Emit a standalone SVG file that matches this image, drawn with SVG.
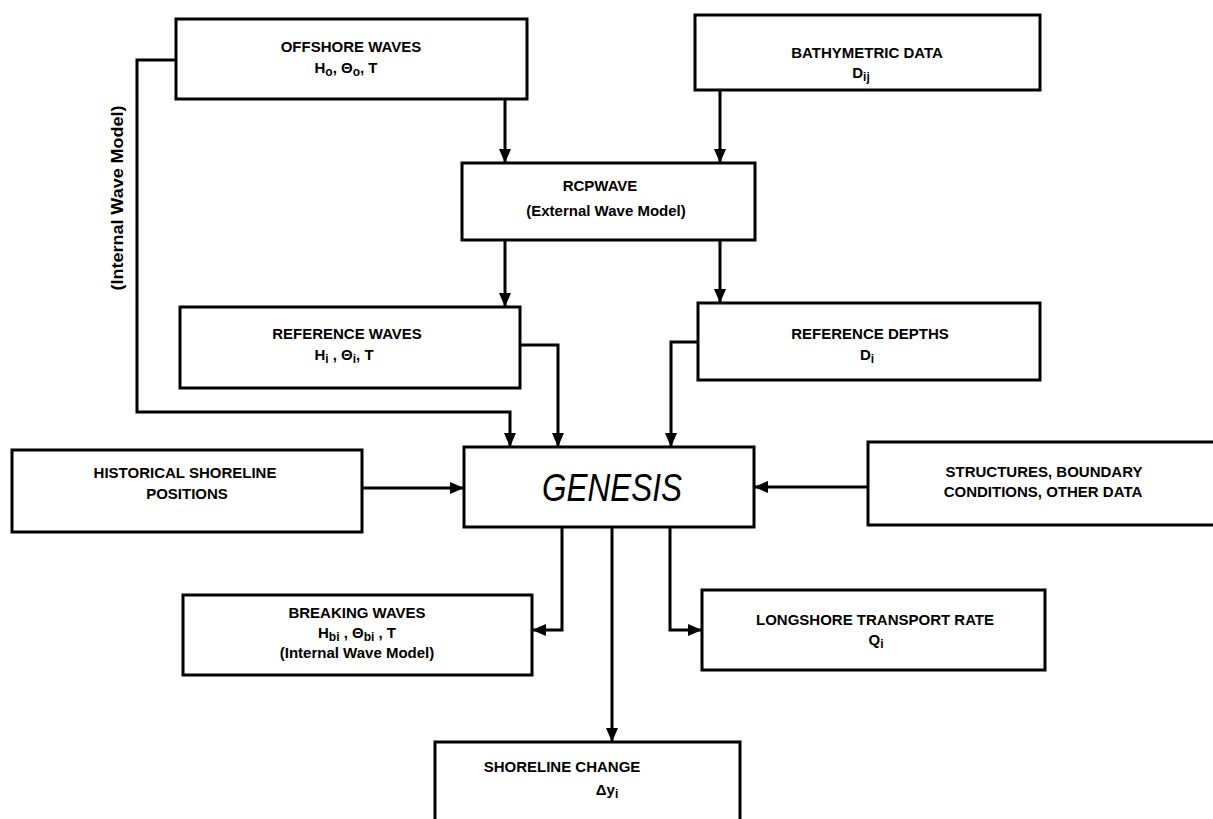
<svg xmlns="http://www.w3.org/2000/svg" width="1213" height="819" viewBox="0 0 1213 819">
  <style>
    .box { fill: #fff; stroke: #000; stroke-width: 3; }
    .t { font-family: "Liberation Sans", Arial, sans-serif; font-weight: bold; font-size: 15px; fill: #000; text-anchor: middle; }
    .sub { font-size: 12px; }
    .big { font-family: "Liberation Sans", Arial, sans-serif; font-style: italic; font-size: 38px; fill: #000; text-anchor: middle; }
    .wire { fill: none; stroke: #000; stroke-width: 3; marker-end: url(#arrow); }
  </style>
  <defs>
    <marker id="arrow" markerUnits="userSpaceOnUse" markerWidth="14" markerHeight="12" refX="13" refY="6" orient="auto">
      <path d="M0,0 L14,6 L0,12 z" fill="#000"/>
    </marker>
  </defs>
  <rect width="1213" height="819" fill="#fff"/>

  <!-- connectors -->
  <g id="connectors">
    <path class="wire" d="M176,60 H137 V412 H510 V446"/>
    <path class="wire" d="M505,99 V162"/>
    <path class="wire" d="M720,90 V162"/>
    <path class="wire" d="M505,240 V306"/>
    <path class="wire" d="M720,240 V302"/>
    <path class="wire" d="M520,345 H558 V446"/>
    <path class="wire" d="M698,342 H671 V446"/>
    <path class="wire" d="M362,488 H463"/>
    <path class="wire" d="M868,487 H755"/>
    <path class="wire" d="M562,527 V630 H533"/>
    <path class="wire" d="M612,527 V741"/>
    <path class="wire" d="M670,527 V630 H701"/>
  </g>

  <g id="offshore">
    <rect class="box" x="176" y="19" width="351" height="80"/>
    <text class="t" x="351" y="52">OFFSHORE WAVES</text>
    <text class="t" x="346" y="73">H<tspan class="sub" dy="3">o</tspan><tspan dy="-3">, Θ</tspan><tspan class="sub" dy="3">o</tspan><tspan dy="-3">, T</tspan></text>
  </g>

  <g id="bathymetric">
    <rect class="box" x="695" y="15" width="345" height="75"/>
    <text class="t" x="867" y="58">BATHYMETRIC DATA</text>
    <text class="t" x="861" y="78">D<tspan class="sub" dy="3">ij</tspan></text>
  </g>

  <g id="rcpwave">
    <rect class="box" x="462" y="163" width="293" height="77"/>
    <text class="t" x="600" y="191">RCPWAVE</text>
    <text class="t" x="606" y="216">(External Wave Model)</text>
  </g>

  <g id="reference-waves">
    <rect class="box" x="180" y="307" width="340" height="81"/>
    <text class="t" x="347" y="339">REFERENCE WAVES</text>
    <text class="t" x="344" y="360">H<tspan class="sub" dy="3">i</tspan><tspan dy="-3">  , Θ</tspan><tspan class="sub" dy="3">i</tspan><tspan dy="-3">, T</tspan></text>
  </g>

  <g id="reference-depths">
    <rect class="box" x="698" y="303" width="342" height="77"/>
    <text class="t" x="870" y="339">REFERENCE DEPTHS</text>
    <text class="t" x="867" y="360">D<tspan class="sub" dy="3">i</tspan></text>
  </g>

  <g id="historical">
    <rect class="box" x="12" y="450" width="350" height="82"/>
    <text class="t" x="185" y="478">HISTORICAL SHORELINE</text>
    <text class="t" x="187" y="499">POSITIONS</text>
  </g>

  <g id="genesis">
    <rect class="box" x="464" y="447" width="290" height="80"/>
    <text class="big" x="612" y="501" textLength="140" lengthAdjust="spacingAndGlyphs">GENESIS</text>
  </g>

  <g id="structures">
    <rect class="box" x="868" y="442" width="352" height="83"/>
    <text class="t" x="1044" y="477">STRUCTURES, BOUNDARY</text>
    <text class="t" x="1043" y="497">CONDITIONS, OTHER DATA</text>
  </g>

  <g id="breaking-waves">
    <rect class="box" x="183" y="595" width="349" height="80"/>
    <text class="t" x="357" y="618">BREAKING WAVES</text>
    <text class="t" x="357" y="638">H<tspan class="sub" dy="3">bi</tspan><tspan dy="-3"> , Θ</tspan><tspan class="sub" dy="3">bi</tspan><tspan dy="-3"> , T</tspan></text>
    <text class="t" x="357" y="658">(Internal Wave Model)</text>
  </g>

  <g id="longshore">
    <rect class="box" x="702" y="590" width="343" height="80"/>
    <text class="t" x="875" y="625">LONGSHORE TRANSPORT RATE</text>
    <text class="t" x="876" y="645">Q<tspan class="sub" dy="3">i</tspan></text>
  </g>

  <g id="shoreline-change">
    <rect class="box" x="435" y="742" width="305" height="90"/>
    <text class="t" x="562" y="772">SHORELINE CHANGE</text>
    <text class="t" x="607" y="795">Δy<tspan class="sub" dy="3">i</tspan></text>
  </g>

  <g id="internal-wave-label">
    <text class="t" style="font-size:16px" transform="translate(123,198) rotate(-90)" textLength="185" lengthAdjust="spacingAndGlyphs">(Internal Wave Model)</text>
  </g>
</svg>
